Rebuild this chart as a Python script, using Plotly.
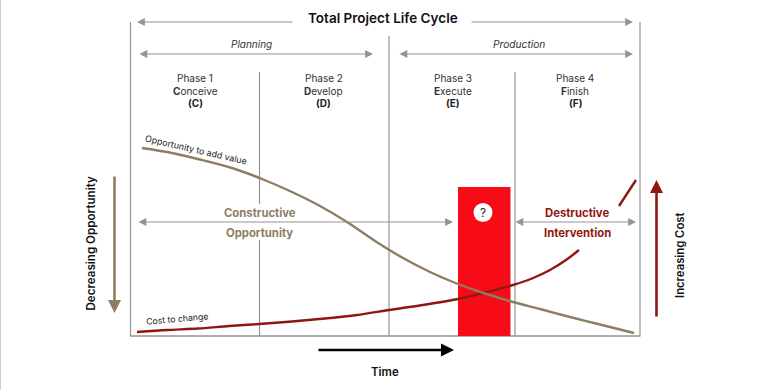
import plotly.graph_objects as go

FONT = "Inter"
GRAY = "#949494"
BROWN = "#8d7e63"
DARK_RED = "#8f1711"
BRIGHT_RED = "#f60b17"
INK = "#1a1a1a"

# Curves, on a canvas-sized scale (x to the right, y downward)
opportunity_x = [142, 172, 202, 232, 262, 292, 320, 347, 375, 403, 430, 458, 485, 513, 540, 570, 600, 634]
opportunity_y = [148, 153, 160, 168, 179, 192, 206, 222, 241, 258, 272, 284, 293.5, 302, 309, 317, 324.5, 333]
cost_x = [137, 167, 198, 229, 259, 292, 325, 357, 389, 423, 458, 483, 513, 532, 550, 566, 579, None, 619, 636]
cost_y = [332, 330, 328.5, 326, 324, 321.5, 318.5, 315, 310, 305, 299, 293, 285, 278.5, 270, 260, 250, None, 206, 180]

bar_x = [484.25]
bar_top = [187]
bar_bottom = [336]
bar_width = [52.5]

phase_x = [195, 323.5, 453, 575]
phase_titles = ["Phase 1", "Phase 2", "Phase 3", "Phase 4"]
phase_initials = ["C", "D", "E", "F"]
phase_rest = ["onceive", "evelop", "xecute", "inish"]

fig = go.Figure()
fig.add_trace(go.Bar(x=bar_x, y=[b - t for b, t in zip(bar_bottom, bar_top)], base=bar_top,
                     width=bar_width, marker=dict(color=BRIGHT_RED, line=dict(width=0)), showlegend=False))
fig.add_trace(go.Scatter(x=cost_x, y=cost_y, mode="lines", line=dict(color=DARK_RED, width=2.4, shape="spline", smoothing=0.8),
                         showlegend=False, connectgaps=False))
fig.add_trace(go.Scatter(x=opportunity_x, y=opportunity_y, mode="lines",
                         line=dict(color=BROWN, width=2.4, shape="spline", smoothing=0.8), showlegend=False))


def seg(x0, y0, x1, y1, color=GRAY, width=1.2, layer="below"):
    fig.add_shape(type="line", xref="x", yref="y", x0=x0, y0=y0, x1=x1, y1=y1,
                  line=dict(color=color, width=width), layer=layer)


seg(0.5, 0, 0.5, 390, "#cccccc", 1)
seg(130.5, 22, 130.5, 336)
seg(640, 22, 640, 336)
seg(130, 336, 640.5, 336, GRAY, 1.5)
seg(389, 36, 389, 336)
seg(259.5, 72, 259.5, 204)
seg(259.5, 240, 259.5, 336)
seg(515, 72, 515, 336)

fig.add_shape(type="circle", xref="x", yref="y", x0=473.5, x1=492.5, y0=203, y1=222,
              fillcolor="white", line=dict(width=0), layer="above")


def arrow(x0, y0, x1, y1, color=GRAY, width=1.2, both=False, size=1.3, head=2):
    fig.add_annotation(x=x1, y=y1, ax=x0, ay=y0, xref="x", yref="y", axref="x", ayref="y", text="",
                       showarrow=True, arrowhead=head, arrowsize=size, arrowwidth=width, arrowcolor=color,
                       arrowside="end+start" if both else "end", startarrowhead=head, startarrowsize=size)


arrow(294, 22, 137, 22)
arrow(470, 22, 633, 22)
arrow(138, 54, 373, 54, both=True)
arrow(398, 54, 633, 54, both=True)
arrow(137, 222, 453, 222, both=True)
arrow(514, 222, 636, 222, both=True)
arrow(317, 350, 454, 350, color="#000000", width=2.6, size=1.0)
arrow(114.5, 175, 114.5, 313, color=BROWN, width=2.6, size=1.0)
arrow(656.5, 318, 656.5, 180, color=DARK_RED, width=2.6, size=1.0)


def label(x, y, text, size=10, color=INK, angle=0, weight=None):
    fig.add_annotation(x=x, y=y, xref="x", yref="y", text=text, showarrow=False, textangle=angle,
                       font=dict(family=FONT, size=size, color=color, weight=weight) if weight
                       else dict(family=FONT, size=size, color=color))


label(382.5, 18, "Total Project Life Cycle", 13.5, "#111111", weight=600)
label(251, 44, "<i>Planning</i>", 10, "#333333")
label(519, 44, "<i>Production</i>", 10.2, "#333333")
for x, title, init, rest in zip(phase_x, phase_titles, phase_initials, phase_rest):
    label(x, 78, title, 10, "#333333")
    label(x, 90.5, f"<b>{init}</b>{rest}", 10, "#333333")
    label(x, 103, f"<b>({init})</b>", 10, "#222222")
label(196, 149.5, "Opportunity to add value", 8.9, "#222222", angle=13)
label(177, 318.5, "Cost to change", 8.7, "#222222", angle=-5)
label(259.5, 212.5, "<b>Constructive</b>", 11.3, BROWN)
label(259.5, 233, "<b>Opportunity</b>", 11.3, BROWN)
label(577, 212.5, "<b>Destructive</b>", 11.3, DARK_RED)
label(577, 233, "<b>Intervention</b>", 11.3, DARK_RED)
label(483, 212.5, "?", 12, "#222222")
label(385, 372, "Time", 11.5, "#111111", weight=600)
label(90, 243.5, "Decreasing Opportunity", 11.6, "#111111", angle=-90, weight=600)
label(680, 255, "Increasing Cost", 11.3, "#111111", angle=-90, weight=600)

fig.update_layout(width=780, height=390, margin=dict(l=0, r=0, t=0, b=0), paper_bgcolor="white", plot_bgcolor="white",
                  showlegend=False, barmode="overlay",
                  xaxis=dict(range=[0, 780], visible=False, fixedrange=True),
                  yaxis=dict(range=[390, 0], visible=False, fixedrange=True))
fig.write_html("out.html", config={"displayModeBar": False}, default_width="780px", default_height="390px",
               post_script="document.body.style.margin='0';document.body.style.overflow='hidden';")
